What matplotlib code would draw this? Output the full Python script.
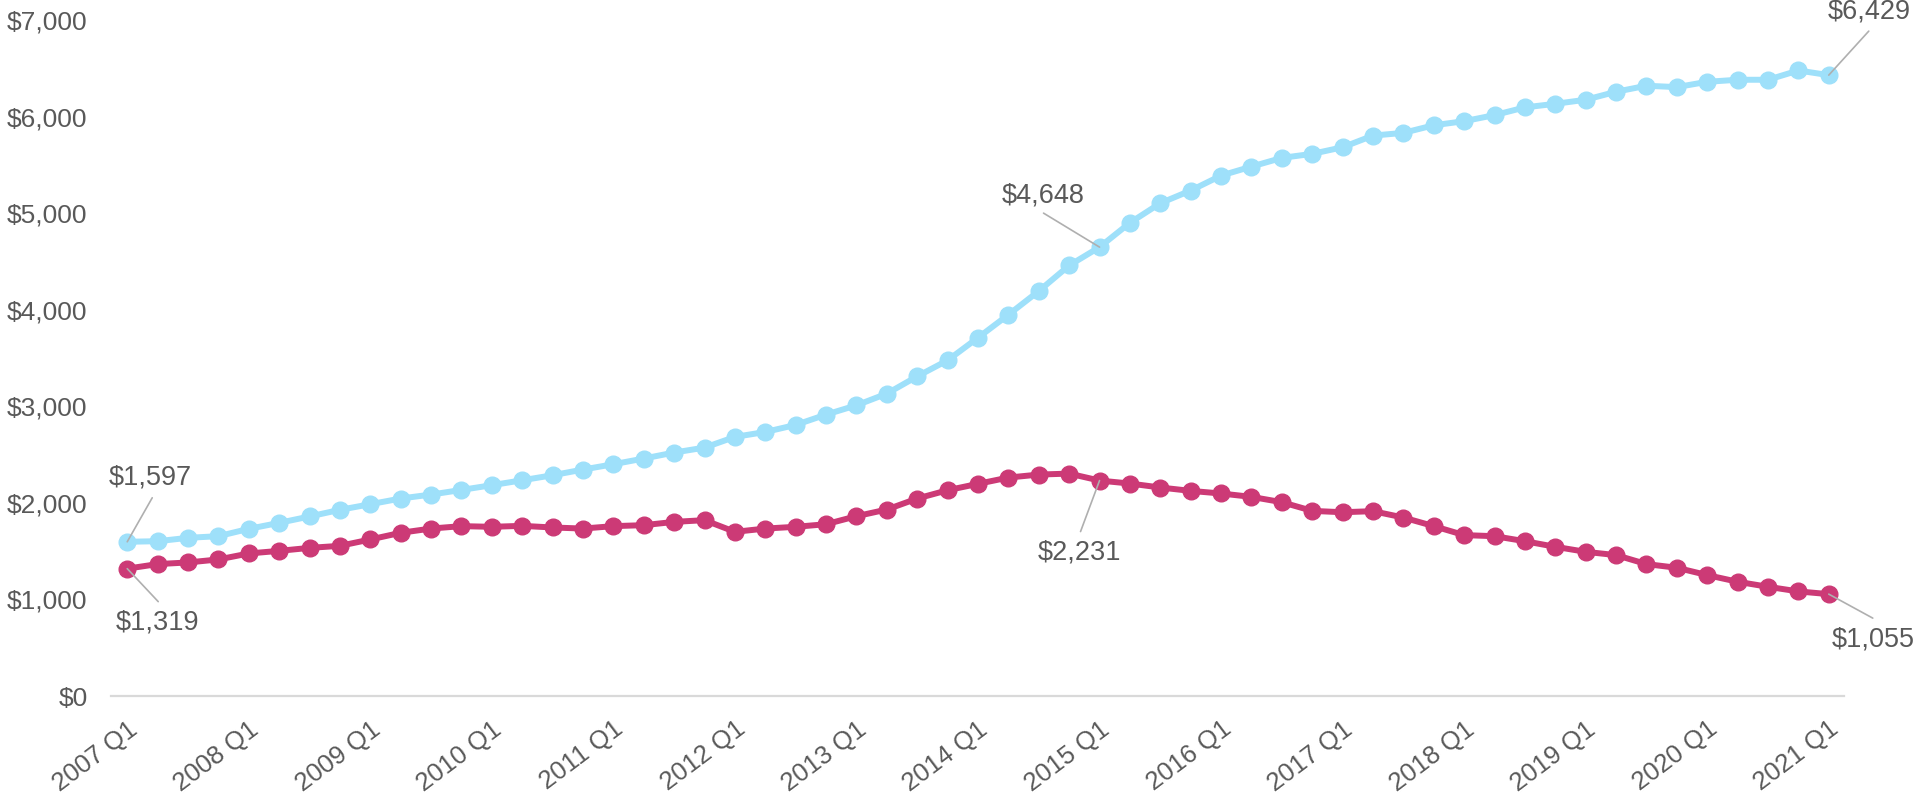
import matplotlib
matplotlib.use('Agg')
import matplotlib.pyplot as plt
from matplotlib.ticker import FuncFormatter

# quarterly categories 2007 Q1 .. 2021 Q1
quarters = ["%d Q%d" % (y, q) for y in range(2007, 2022) for q in range(1, 5)][:57]

upper = [1597, 1603, 1638, 1655, 1731, 1793, 1859, 1928, 1986, 2045,
         2086, 2134, 2183, 2234, 2286, 2345, 2400, 2459, 2521, 2572,
         2683, 2734, 2807, 2914, 3010, 3131, 3310, 3476, 3710, 3948,
         4193, 4458, 4648, 4900, 5103, 5234, 5389, 5482, 5572, 5614,
         5682, 5803, 5831, 5910, 5952, 6015, 6095, 6132, 6174, 6257,
         6319, 6305, 6360, 6381, 6381, 6477, 6429]

lower = [1319, 1366, 1383, 1414, 1476, 1503, 1534, 1555, 1621, 1690,
         1734, 1759, 1752, 1762, 1745, 1734, 1759, 1769, 1803, 1821,
         1700, 1734, 1752, 1779, 1862, 1931, 2045, 2131, 2197, 2262,
         2293, 2303, 2231, 2200, 2159, 2124, 2097, 2062, 2007, 1917,
         1903, 1914, 1848, 1759, 1666, 1655, 1603, 1545, 1493, 1459,
         1366, 1328, 1252, 1183, 1131, 1083, 1055]

yticks = [0, 1000, 2000, 3000, 4000, 5000, 6000, 7000]

grey = '#595959'
blue = '#9EE0FA'
pink = '#CC3A76'

plt.rcParams['font.family'] = ['Liberation Sans', 'DejaVu Sans']

fig = plt.figure(figsize=(19.16, 7.93), dpi=100)
ax = fig.add_axes([0.058, 0.1223, 0.9044, 0.8525])

x = list(range(len(quarters)))
ax.plot(x, upper, color=blue, lw=4.3, marker='o', ms=12, zorder=3)
ax.plot(x, lower, color=pink, lw=4.3, marker='o', ms=12, zorder=3)

ax.set_xlim(-0.53, 56.5)
ax.set_ylim(0, 7000)
ax.set_yticks(yticks)
ax.yaxis.set_major_formatter(FuncFormatter(lambda v, p: '${:,.0f}'.format(v)))
ax.set_xticks(x[::4])
ax.set_xticklabels(quarters[::4], rotation=37, ha='right', va='top',
                   rotation_mode='anchor')
ax.tick_params(axis='both', length=0, colors=grey)
ax.tick_params(axis='y', pad=17, labelsize=19)
ax.tick_params(axis='x', pad=15, labelsize=18.5)

for s in ['top', 'right', 'left']:
    ax.spines[s].set_visible(False)
ax.spines['bottom'].set_color('#D9D9D9')
ax.spines['bottom'].set_linewidth(1.6)

# callouts: (index, series, label offset px, leader start offset px)
callouts = [
    (0, upper, (23, 64), (25, 44)),
    (0, lower, (30, -54), (31, -33)),
    (32, upper, (-56, 52), (-56, 34)),
    (32, lower, (-20, -72), (-19, -51)),
    (56, upper, (40, 64), (40, 44)),
    (56, lower, (44, -45), (44, -24)),
]
for i, ser, toff, loff in callouts:
    ax.annotate('', xy=(i, ser[i]), xytext=loff, textcoords='offset pixels',
                arrowprops=dict(arrowstyle='-', color='#AFAFAF', lw=1.2,
                                shrinkA=0, shrinkB=0), zorder=4)
    ax.annotate('${:,}'.format(ser[i]), xy=(i, ser[i]), xytext=toff,
                textcoords='offset pixels', ha='center', va='center',
                fontsize=19.5, color=grey, annotation_clip=False)

fig.savefig('out.png', dpi=100, facecolor='white')
